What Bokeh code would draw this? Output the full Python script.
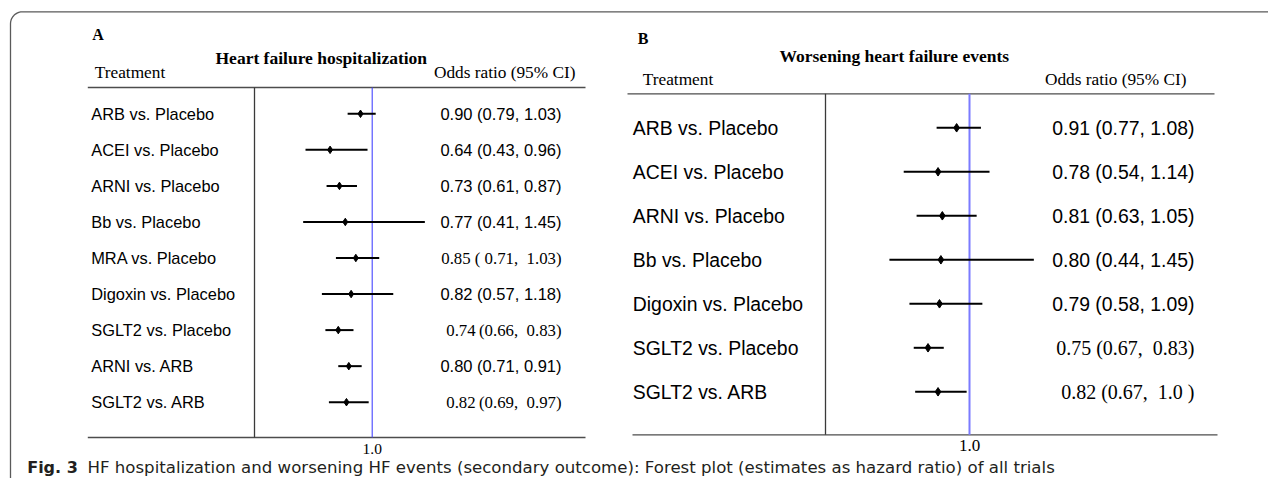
import math
from bokeh.plotting import figure
from bokeh.models import Range1d, ColumnDataSource
from bokeh.core.properties import value
from bokeh.embed import file_html
from bokeh.resources import INLINE

# ---------------- data ----------------
labels_a = ["ARB vs. Placebo", "ACEI vs. Placebo", "ARNI vs. Placebo", "Bb vs. Placebo",
            "MRA vs. Placebo", "Digoxin vs. Placebo", "SGLT2 vs. Placebo", "ARNI vs. ARB",
            "SGLT2 vs. ARB"]
est_a = [0.90, 0.64, 0.72, 0.77, 0.86, 0.82, 0.71, 0.80, 0.78]
lo_a = [0.79, 0.43, 0.61, 0.41, 0.69, 0.57, 0.60, 0.71, 0.63]
hi_a = [1.03, 0.96, 0.87, 1.45, 1.06, 1.18, 0.84, 0.91, 0.97]
text_a = ["0.90 (0.79, 1.03)", "0.64 (0.43, 0.96)", "0.73 (0.61, 0.87)", "0.77 (0.41, 1.45)",
          "0.85 (\u00a00.71,\u00a0 1.03)", "0.82 (0.57, 1.18)", "0.74\u2009(0.66,\u00a0 0.83)",
          "0.80 (0.71, 0.91)", "0.82\u2009(0.69,\u00a0 0.97)"]
serif_a = [False, False, False, False, True, False, True, False, True]

labels_b = ["ARB vs. Placebo", "ACEI vs. Placebo", "ARNI vs. Placebo", "Bb vs. Placebo",
            "Digoxin vs. Placebo", "SGLT2 vs. Placebo", "SGLT2 vs. ARB"]
est_b = [0.91, 0.78, 0.81, 0.80, 0.79, 0.71, 0.78]
lo_b = [0.77, 0.54, 0.63, 0.44, 0.58, 0.61, 0.62]
hi_b = [1.08, 1.14, 1.05, 1.45, 1.09, 0.82, 0.98]
text_b = ["0.91 (0.77, 1.08)", "0.78 (0.54, 1.14)", "0.81 (0.63, 1.05)", "0.80 (0.44, 1.45)",
          "0.79 (0.58, 1.09)", "0.75\u00a0(0.67,\u00a0 0.83)", "0.82\u00a0(0.67,\u00a0 1.0\u00a0)"]
serif_b = [False, False, False, False, False, True, True]

ref_value = 1.0
title_a = "Heart failure hospitalization"
title_b = "Worsening heart failure events"
caption_bold = "Fig. 3"
caption_text = ("HF hospitalization and worsening HF events (secondary outcome): Forest plot "
                "(estimates as hazard ratio) of all trials")

# ---------------- layout ----------------
W, H = 1268, 478
SANS = value("Liberation Sans")
SERIF = value("Liberation Serif")
CAP = value("DejaVu Sans")

p = figure(width=W, height=H, x_range=Range1d(0, W), y_range=Range1d(H, 0),
           x_axis_type=None, y_axis_type=None, output_backend="svg",
           toolbar_location=None, tools="", min_border=0)
p.outline_line_color = None
p.background_fill_color = "white"
p.border_fill_color = "white"

# odds-ratio scales (pixel of 1.0, pixels per unit) and row scales
ax, ka = 371.7, 117.0
bx, kb = 969.0, 143.0
ay0, ad = 113.3, 36.05
by0, bd = 127.3, 44.0
p.extra_x_ranges = {
    "orA": Range1d(1 - ax / ka, 1 + (W - ax) / ka),
    "orB": Range1d(1 - bx / kb, 1 + (W - bx) / kb),
}
p.extra_y_ranges = {
    "rowA": Range1d((H - ay0) / ad, -ay0 / ad),
    "rowB": Range1d((H - by0) / bd, -by0 / bd),
}

# frame with rounded corners
r = 12
fl, ft, fb = 10, 11.3, 490
pts_x, pts_y = [1300, fl + r], [fb, fb]
for i in range(11):
    t = math.pi / 2 + (math.pi / 2) * i / 10
    pts_x.append(fl + r + r * math.cos(t)); pts_y.append(fb - r + r * math.sin(t))
for i in range(11):
    t = math.pi + (math.pi / 2) * i / 10
    pts_x.append(fl + r + r * math.cos(t)); pts_y.append(ft + r + r * math.sin(t))
pts_x.append(1300); pts_y.append(ft)
p.line(pts_x, pts_y, line_color="#5a5a5a", line_width=1.3)


def panel(labels, est, lo, hi, texts, serif, rng_x, rng_y,
          lab_x, val_right, lab_size, val_size, serif_size,
          top, bottom, hx0, hx1, bx0, bx1, vx, blue_color, blue_w, dsize, tick_y, tick_size):
    rows = list(range(len(labels)))
    p.segment(x0=[hx0, bx0], x1=[hx1, bx1], y0=[top, bottom], y1=[top, bottom],
              line_color="#4d4d4d", line_width=1.3)
    p.segment(x0=[vx], x1=[vx], y0=[top], y1=[bottom], line_color="#3a3a3a", line_width=1.3)
    p.segment(x0=[ref_value], x1=[ref_value], y0=[top], y1=[bottom], x_range_name=rng_x,
              line_color=blue_color, line_width=blue_w)
    src = ColumnDataSource(dict(row=rows, est=est, lo=lo, hi=hi))
    p.segment(x0="lo", x1="hi", y0="row", y1="row", source=src, x_range_name=rng_x,
              y_range_name=rng_y, line_color="black", line_width=2)
    p.scatter(x="est", y="row", source=src, marker="diamond", size=dsize, color="black",
              x_range_name=rng_x, y_range_name=rng_y)
    p.text(x=[lab_x] * len(labels), y=rows, text=labels, y_range_name=rng_y,
           text_font=SANS, text_font_size=lab_size, text_baseline="middle",
           text_align="left", text_color="black")
    r_s = [i for i in rows if not serif[i]]
    r_f = [i for i in rows if serif[i]]
    p.text(x=[val_right] * len(r_s), y=r_s, text=[texts[i] for i in r_s], y_range_name=rng_y,
           text_font=SANS, text_font_size=val_size, text_baseline="middle",
           text_align="right", text_color="black")
    p.text(x=[val_right] * len(r_f), y=r_f, text=[texts[i] for i in r_f], y_range_name=rng_y,
           text_font=SERIF, text_font_size=serif_size, text_baseline="middle",
           text_align="right", text_color="black")
    p.text(x=[ref_value], y=[tick_y], text=["1.0"], x_range_name=rng_x, text_font=SERIF,
           text_font_size=tick_size, text_baseline="middle", text_align="center",
           text_color="black")


panel(labels_a, est_a, lo_a, hi_a, text_a, serif_a, "orA", "rowA",
      90.7, 561, "16.4px", "16.5px", "16.8px",
      87, 437, 87.3, 585, 87.3, 585, 254, "#4646ff", 1.1, 7.5, 448, "15.5px")
panel(labels_b, est_b, lo_b, hi_b, text_b, serif_b, "orB", "rowB",
      632.3, 1194, "19.4px", "19.4px", "20px",
      93.3, 434.3, 627, 1214, 632, 1217, 825, "#7b7bff", 2.0, 8.5, 445, "17px")

# headers
hdr = dict(text_baseline="middle", text_color="black")
p.text(x=[91.7], y=[33.8], text=["A"], text_font=SERIF, text_font_size="16px",
       text_font_style="bold", text_align="left", **hdr)
p.text(x=[637.3], y=[38.3], text=["B"], text_font=SERIF, text_font_size="16px",
       text_font_style="bold", text_align="left", **hdr)
p.text(x=[215], y=[57.3], text=[title_a], text_font=SERIF, text_font_size="17.5px",
       text_font_style="bold", text_align="left", **hdr)
p.text(x=[779], y=[55], text=[title_b], text_font=SERIF, text_font_size="17.5px",
       text_font_style="bold", text_align="left", **hdr)
p.text(x=[94.3, 642.3], y=[71.7, 79.2], text=["Treatment", "Treatment"], text_font=SERIF,
       text_font_size="17.3px", text_align="left", **hdr)
p.text(x=[575, 1186], y=[71.7, 79.2], text=["Odds ratio (95% CI)", "Odds ratio (95% CI)"],
       text_font=SERIF, text_font_size="17.3px", text_align="right", **hdr)

# caption (kept inside the canvas)
p.text(x=[26.7], y=[466.5], text=[caption_bold], text_font=CAP,
       text_font_size="16px", text_font_style="bold", text_align="left",
       text_baseline="middle", text_color="#231f20")
p.text(x=[87], y=[466.5], text=[caption_text], text_font=CAP,
       text_font_size="16.6px", text_align="left", text_baseline="middle",
       text_color="#231f20")

open("out.html", "w").write(file_html(p, INLINE))
